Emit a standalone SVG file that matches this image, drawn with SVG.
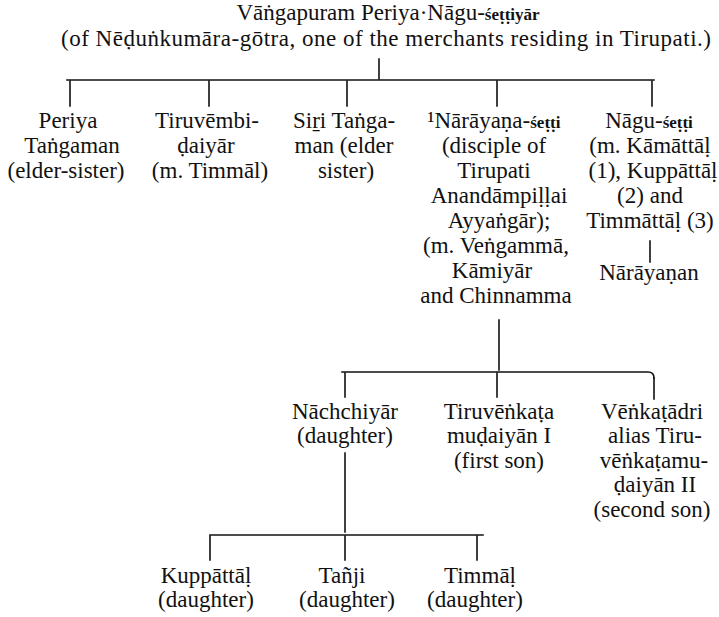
<svg xmlns="http://www.w3.org/2000/svg" width="719" height="617" viewBox="0 0 719 617">
<style>
  text { font-family: "Liberation Serif", "Times New Roman", serif; font-size: 23px; fill: #111; text-anchor: middle; }
  .sm { font-size: 17px; font-weight: bold; }
  .ln { stroke: #111; stroke-width: 1.6; fill: none; stroke-linecap: square; }
</style>
<rect width="719" height="617" fill="#ffffff"/>

<g id="connectors">
  <path class="ln" d="M379,59 V79"/>
  <path class="ln" d="M67,80 H654"/>
  <path class="ln" d="M70,81 V106 M209,81 V106 M347,81 V106 M497,81 V106 M652,81 V106"/>
  <path class="ln" d="M650,241 V262"/>
  <path class="ln" d="M499,320 V370"/>
  <path class="ln" d="M342,372 H648 Q654,372 654,378"/>
  <path class="ln" d="M345,373 V397 M497,373 V397 M654,378 V399"/>
  <path class="ln" d="M345,453 V532"/>
  <path class="ln" d="M210,535 H483"/>
  <path class="ln" d="M210,536 V560 M345,536 V560 M477,536 V560"/>
</g>

<g id="root">
  <text x="388" y="20">Vāṅgapuram Periya·Nāgu-<tspan class="sm">śeṭṭiyār</tspan></text>
  <text x="386" y="46" textLength="650" lengthAdjust="spacing">(of Nēḍuṅkumāra-gōtra, one of the merchants residing in Tirupati.)</text>
</g>

<g id="periya-tangaman">
  <text x="68" y="128">Periya</text>
  <text x="72" y="153">Taṅgaman</text>
  <text x="66" y="178">(elder-sister)</text>
</g>

<g id="tiruvembidaiyar">
  <text x="207" y="128">Tiruvēmbi-</text>
  <text x="206" y="153">ḍaiyār</text>
  <text x="210" y="178">(m. Timmāl)</text>
</g>

<g id="siri-tangaman">
  <text x="344" y="128">Siṟi Taṅga-</text>
  <text x="344" y="153">man (elder</text>
  <text x="346" y="178">sister)</text>
</g>

<g id="narayana-setti">
  <text x="494" y="128">¹Nārāyaṇa-<tspan class="sm">śeṭṭi</tspan></text>
  <text x="494" y="153">(disciple of</text>
  <text x="494" y="178">Tirupati</text>
  <text x="499" y="203">Anandāmpiḷḷai</text>
  <text x="499" y="228">Ayyaṅgār);</text>
  <text x="496" y="253">(m. Veṅgammā,</text>
  <text x="492" y="278">Kāmiyār</text>
  <text x="496" y="303">and Chinnamma</text>
</g>

<g id="nagu-setti">
  <text x="649" y="128">Nāgu-<tspan class="sm">śeṭṭi</tspan></text>
  <text x="650" y="153">(m. Kāmāttāḷ</text>
  <text x="653" y="178">(1), Kuppāttāḷ</text>
  <text x="650" y="203">(2) and</text>
  <text x="650" y="228">Timmāttāḷ (3)</text>
</g>

<g id="narayanan">
  <text x="649" y="280">Nārāyaṇan</text>
</g>

<g id="nachchiyar">
  <text x="345" y="419">Nāchchiyār</text>
  <text x="345" y="443">(daughter)</text>
</g>

<g id="tiruvenkata-mudaiyan-1">
  <text x="499" y="419">Tiruvēṅkaṭa</text>
  <text x="499" y="443">muḍaiyān I</text>
  <text x="499" y="468">(first son)</text>
</g>

<g id="venkatadri">
  <text x="652" y="419">Vēṅkaṭādri</text>
  <text x="655" y="443">alias Tiru-</text>
  <text x="654" y="468">vēṅkaṭamu-</text>
  <text x="655" y="492">ḍaiyān II</text>
  <text x="652" y="517">(second son)</text>
</g>

<g id="kuppattal">
  <text x="206" y="583">Kuppāttāḷ</text>
  <text x="206" y="607">(daughter)</text>
</g>

<g id="tanji">
  <text x="342" y="583">Tañji</text>
  <text x="347" y="607">(daughter)</text>
</g>

<g id="timmal">
  <text x="480" y="583">Timmāḷ</text>
  <text x="475" y="607">(daughter)</text>
</g>
</svg>
